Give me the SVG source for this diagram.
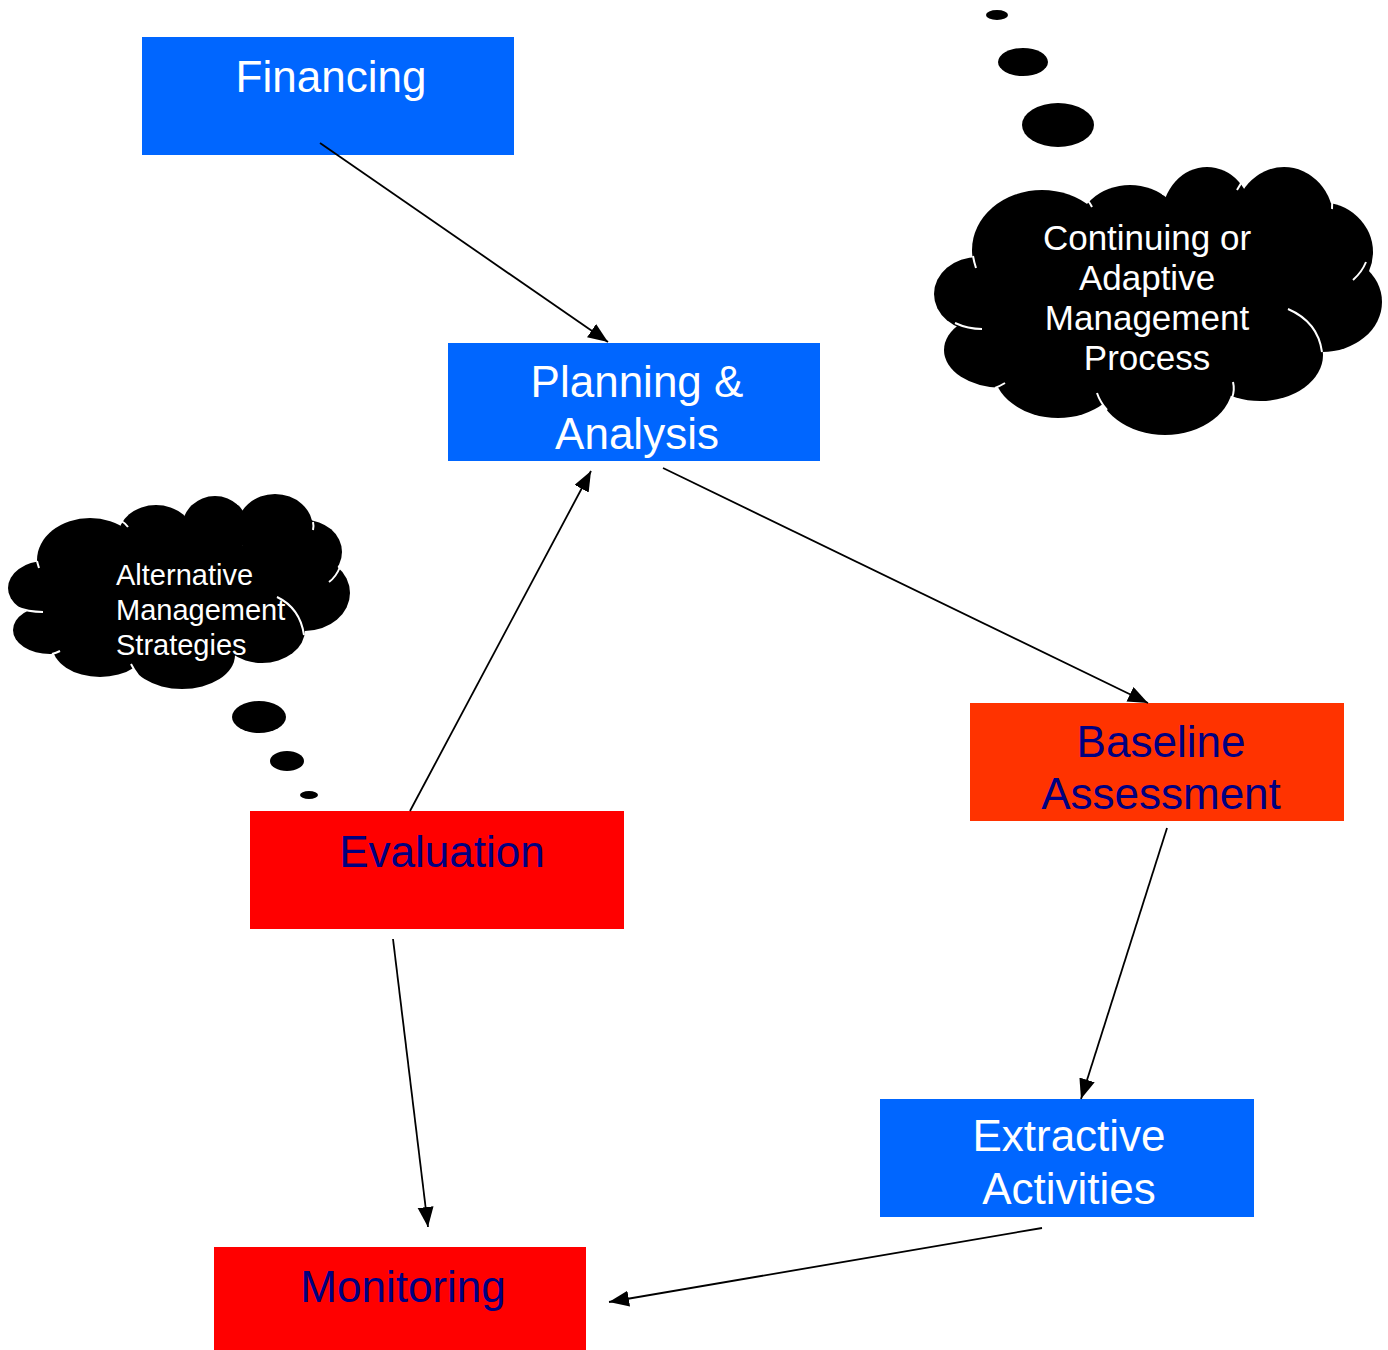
<svg xmlns="http://www.w3.org/2000/svg" width="1388" height="1350" viewBox="0 0 1388 1350">
<style>
.blue{fill:#0066FF}
.red{fill:#FF0000}
.orange{fill:#FF3300}
.t{font-family:"Liberation Sans",Arial,sans-serif;font-size:44px;text-anchor:middle}
.w{fill:#FFFFFF}
.n{fill:#000080}
.cl{fill:#000000}
.seam{fill:none;stroke:#FFFFFF;stroke-width:2}
.ct{font-family:"Liberation Sans",Arial,sans-serif;fill:#FFFFFF}
.conn line{stroke:#000000;stroke-width:1.8;marker-end:url(#ah)}
</style>
<defs>
<marker id="ah" markerUnits="userSpaceOnUse" markerWidth="22" markerHeight="18" refX="20" refY="8" orient="auto">
<path d="M0,0 L20,8 L0,16 Z" fill="#000000"/>
</marker>
</defs>
<rect width="1388" height="1350" fill="#FFFFFF"/>

<g id="cloud-continuing">
<ellipse class="cl" cx="997" cy="15" rx="11" ry="5"/>
<ellipse class="cl" cx="1023" cy="62" rx="25" ry="14"/>
<ellipse class="cl" cx="1058" cy="125" rx="36" ry="22"/>
<g class="cl">
<ellipse cx="978" cy="294" rx="44" ry="37"/>
<ellipse cx="1042" cy="250" rx="70" ry="60"/>
<ellipse cx="1130" cy="235" rx="55" ry="50"/>
<ellipse cx="1207" cy="217" rx="45" ry="50"/>
<ellipse cx="1284" cy="222" rx="50" ry="55"/>
<ellipse cx="1320" cy="252" rx="53" ry="50"/>
<ellipse cx="1322" cy="302" rx="60" ry="50"/>
<ellipse cx="1260" cy="355" rx="63" ry="46"/>
<ellipse cx="1165" cy="383" rx="68" ry="52"/>
<ellipse cx="1058" cy="368" rx="65" ry="50"/>
<ellipse cx="1002" cy="350" rx="58" ry="38"/>
<ellipse cx="1150" cy="300" rx="150" ry="90"/>
</g>
<path class="seam" d="M1080,193 Q1088,199 1092,207"/>
<path class="seam" d="M1167,183 Q1165,189 1163,195"/>
<path class="seam" d="M1243,180 Q1240,185 1237,190"/>
<path class="seam" d="M1331,198 Q1333,203 1332,209"/>
<path class="seam" d="M1366,262 Q1362,272 1353,280"/>
<path class="seam" d="M1288,309 Q1318,322 1322,352"/>
<path class="seam" d="M1233,382 Q1235,390 1232,398"/>
<path class="seam" d="M1097,393 Q1100,402 1107,410"/>
<path class="seam" d="M1005,383 Q1000,386 995,388"/>
<path class="seam" d="M955,323 Q968,329 982,329"/>
<path class="seam" d="M973,256 Q974,262 976,268"/>
<text class="ct" font-size="35" text-anchor="middle"><tspan x="1147" y="250">Continuing or</tspan><tspan x="1147" y="290">Adaptive</tspan><tspan x="1147" y="330">Management</tspan><tspan x="1147" y="370">Process</tspan></text>
</g>

<g id="cloud-alternative">
<ellipse class="cl" cx="259" cy="717" rx="27" ry="16"/>
<ellipse class="cl" cx="287" cy="761" rx="17" ry="10"/>
<ellipse class="cl" cx="309" cy="795" rx="9" ry="4"/>
<g class="cl">
<ellipse cx="45" cy="588" rx="37" ry="27"/>
<ellipse cx="90" cy="560" rx="53" ry="42"/>
<ellipse cx="156" cy="537" rx="38" ry="32"/>
<ellipse cx="215" cy="528" rx="33" ry="32"/>
<ellipse cx="275" cy="528" rx="38" ry="34"/>
<ellipse cx="305" cy="552" rx="37" ry="32"/>
<ellipse cx="305" cy="593" rx="45" ry="38"/>
<ellipse cx="262" cy="630" rx="43" ry="33"/>
<ellipse cx="182" cy="655" rx="53" ry="34"/>
<ellipse cx="100" cy="645" rx="48" ry="32"/>
<ellipse cx="50" cy="630" rx="37" ry="24"/>
<ellipse cx="175" cy="595" rx="120" ry="60"/>
</g>
<path class="seam" d="M120,520 Q125,523 128,527"/>
<path class="seam" d="M187,500 Q185,505 184,510"/>
<path class="seam" d="M242,497 Q240,501 238,505"/>
<path class="seam" d="M313,522 Q314,526 313,530"/>
<path class="seam" d="M340,567 Q336,577 329,582"/>
<path class="seam" d="M277,597 Q300,608 304,635"/>
<path class="seam" d="M235,673 Q236,680 234,684"/>
<path class="seam" d="M131,664 Q134,670 138,675"/>
<path class="seam" d="M60,651 Q56,653 52,654"/>
<path class="seam" d="M16,607 Q28,612 43,612"/>
<path class="seam" d="M37,561 Q38,565 39,568"/>
<text class="ct" font-size="29"><tspan x="116" y="585">Alternative</tspan><tspan x="116" y="620">Management</tspan><tspan x="116" y="655">Strategies</tspan></text>
</g>

<g id="financing">
<rect class="blue" x="142" y="37" width="372" height="118"/>
<text class="t w" x="331" y="92">Financing</text>
</g>
<g id="planning">
<rect class="blue" x="448" y="343" width="372" height="118"/>
<text class="t w"><tspan x="637" y="397">Planning &amp;</tspan><tspan x="637" y="449">Analysis</tspan></text>
</g>
<g id="baseline">
<rect class="orange" x="970" y="703" width="374" height="118"/>
<text class="t n"><tspan x="1161" y="757">Baseline</tspan><tspan x="1161" y="809">Assessment</tspan></text>
</g>
<g id="evaluation">
<rect class="red" x="250" y="811" width="374" height="118"/>
<text class="t n" x="442" y="867">Evaluation</text>
</g>
<g id="extractive">
<rect class="blue" x="880" y="1099" width="374" height="118"/>
<text class="t w"><tspan x="1069" y="1151">Extractive</tspan><tspan x="1069" y="1204">Activities</tspan></text>
</g>
<g id="monitoring">
<rect class="red" x="214" y="1247" width="372" height="103"/>
<text class="t n" x="403" y="1302">Monitoring</text>
</g>

<g id="connectors" class="conn">
<line x1="320" y1="143" x2="608" y2="342"/>
<line x1="410" y1="811" x2="591" y2="471"/>
<line x1="663" y1="468" x2="1148" y2="703"/>
<line x1="1167" y1="828" x2="1081" y2="1099"/>
<line x1="393" y1="939" x2="428" y2="1227"/>
<line x1="1042" y1="1228" x2="609" y2="1302"/>
</g>
</svg>
